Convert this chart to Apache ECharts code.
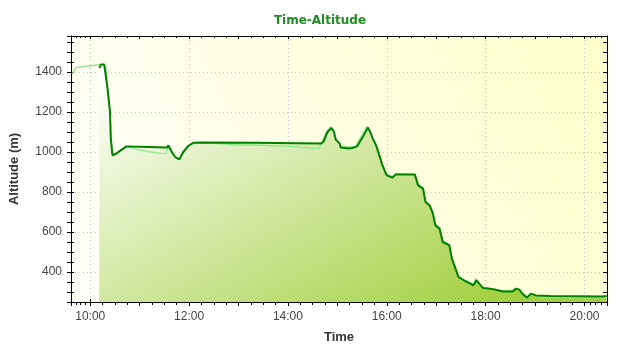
<!DOCTYPE html>
<html>
<head>
<meta charset="utf-8">
<script src="https://cdn.jsdelivr.net/npm/echarts@6/dist/echarts.min.js"></script>
<style>html,body{margin:0;padding:0;background:#fff;}#c{width:640px;height:350px;}</style>
</head>
<body>
<div id="c"></div>
<script>
// Dark (main) altitude track
var darkTimes = ['10:11','10:13','10:17','10:18','10:21','10:24','10:25','10:27','10:29','10:31','10:37','10:44','10:51','11:33','11:35','11:39','11:43','11:48','11:53','11:59','12:05','12:16','13:21','13:22','14:40','14:43','14:48','14:53','14:56','14:58','15:03','15:04','15:14','15:18','15:24','15:27','15:32','15:37','15:40','15:43','15:47','15:51','15:54','15:58','16:00','16:07','16:11','16:34','16:38','16:44','16:47','16:52','16:56','16:59','17:04','17:08','17:16','17:19','17:22','17:27','17:35','17:41','17:45','17:49','17:51','17:54','17:57','18:03','18:11','18:21','18:33','18:37','18:41','18:45','18:50','18:55','19:01','19:19','20:22','20:24','20:27'];
var darkValues = [1420,1437,1437,1428,1318,1200,1068,984,975,990,1008,1028,1027,1022,1033,1000,975,963,1000,1030,1046,1048,1046,1042,1043,1050,1100,1120,1100,1062,1042,1022,1017,1020,1028,1050,1083,1122,1100,1067,1033,983,942,900,883,872,888,888,833,817,750,733,692,633,617,550,533,467,433,375,355,343,333,358,362,333,320,317,312,303,303,317,312,290,272,292,283,280,278,268,280];

// Light (secondary) altitude track
var lightTimes = ['09:38','09:40','09:43','10:07','10:16','10:19','10:21','10:24','10:25','10:27','10:29','10:31','10:37','10:44','10:47','10:57','11:09','11:26','11:32','11:34','11:36','11:39','11:43','11:48','11:53','11:59','12:05','12:38','12:58','13:21','13:22','14:00','14:01','14:20','14:21','14:38','14:41','14:46','14:51','14:55','14:58','15:02','15:04','15:14','15:22','15:26','15:31','15:36','15:39','15:43','15:47','15:51','15:54','15:58','16:00','16:07','16:11','16:34','16:38','16:44','16:47','16:52','16:56','16:59','17:04','17:08','17:16','17:19','17:22','17:27','17:35','17:41','17:45','17:48','17:50','17:53','17:57','18:03','18:11','18:21','18:29','18:33','18:37','18:41','18:45','18:50','18:55','19:01','19:10','20:26'];
var lightValues = [1388,1405,1422,1435,1438,1425,1320,1205,1075,988,978,992,1010,1028,1025,1012,1003,993,992,1025,1035,1005,978,966,1002,1032,1046,1042,1035,1035,1028,1028,1022,1022,1017,1017,1045,1095,1125,1108,1070,1045,1030,1025,1028,1060,1095,1128,1105,1070,1038,990,948,905,888,877,893,885,840,822,755,738,697,640,622,556,538,472,438,380,358,346,338,367,365,338,322,318,313,305,308,312,318,312,292,275,294,280,272,272];

var xMin = '09:36:40';
var xMax = '20:27:20';
var xLabelEveryHours = 2;
var yMin = 250, yMax = 1580, yStep = 50, yLabelStep = 200;
var titleText = 'Time-Altitude';
var xName = 'Time';
var yName = 'Altitude (m)';

var DAY = '2020-01-01 ';
function toPairs(ts, vs) { return ts.map(function (t, i) { return [DAY + t, vs[i]]; }); }
var darkData = toPairs(darkTimes, darkValues);
var lightData = toPairs(lightTimes, lightValues);

var labelFont = { fontFamily: 'Liberation Sans', fontSize: 12, color: '#444' };
var nameFont = { fontFamily: 'Liberation Sans', fontSize: 13, fontWeight: 'bold', color: '#333' };
var blackLine = { show: true, onZero: false, lineStyle: { color: '#000', width: 1 } };
var GRID = '#c4c4c4', NONE = 'rgba(0,0,0,0)';

function pad(n) { return (n < 10 ? '0' : '') + n; }
function xLabel(v) {
  var d = new Date(v);
  if (d.getMinutes() !== 0 || d.getSeconds() !== 0) return '';
  return d.getHours() % xLabelEveryHours === 0 ? pad(d.getHours()) + ':' + pad(d.getMinutes()) : '';
}

function xAx(extra) {
  return Object.assign({
    type: 'time', min: DAY + xMin, max: DAY + xMax,
    axisLine: blackLine, axisLabel: { show: false }, splitLine: { show: false }
  }, extra);
}
function yAx(extra) {
  return Object.assign({
    type: 'value', min: yMin, max: yMax, interval: yStep,
    axisLine: blackLine, axisLabel: { show: false }, splitLine: { show: false }
  }, extra);
}

var chart = echarts.init(document.getElementById('c'), null, { renderer: 'canvas' });
chart.setOption({
  animation: false,
  backgroundColor: '#ffffff',
  title: {
    text: titleText, left: 'center', top: 10,
    textStyle: { fontFamily: 'DejaVu Sans', fontSize: 12, fontWeight: 'bold', color: '#1e8c1e' }
  },
  grid: {
    left: 67, right: 33, top: 36, bottom: 48, show: true, borderWidth: 0,
    backgroundColor: {
      type: 'linear', x: 67, y: 302, x2: 607, y2: 36, global: true,
      colorStops: [{ offset: 0, color: '#fffffb' }, { offset: 1, color: '#ffffcc' }]
    }
  },
  xAxis: [
    xAx({
      position: 'bottom', name: xName, nameLocation: 'middle', nameGap: 29, nameTextStyle: nameFont,
      axisLabel: Object.assign({ show: true, margin: 9, formatter: xLabel }, labelFont),
      axisTick: { show: true, inside: false, length: 4, lineStyle: { color: '#000' } },
      minorTick: { show: true, splitNumber: 4, length: 3, lineStyle: { color: '#000' } },
      splitLine: { show: true, lineStyle: { color: [NONE, GRID], type: [1, 3], width: 1 } }
    }),
    xAx({
      position: 'bottom',
      axisTick: { show: true, inside: true, length: 3, lineStyle: { color: '#000' } },
      minorTick: { show: false }
    }),
    xAx({
      position: 'top',
      axisTick: { show: true, inside: true, length: 3, lineStyle: { color: '#000' } },
      minorTick: { show: true, splitNumber: 4, length: 2, lineStyle: { color: '#000' } }
    })
  ],
  yAxis: [
    yAx({
      position: 'left', name: yName, nameLocation: 'middle', nameGap: 50, nameTextStyle: nameFont,
      axisLabel: Object.assign({ show: true, margin: 9, formatter: function (v) { return v % yLabelStep === 0 ? String(v) : ''; } }, labelFont),
      axisTick: { show: true, inside: false, length: 4, lineStyle: { color: '#000' } },
      splitLine: { show: true, showMinLine: true, showMaxLine: true,
        lineStyle: { color: [NONE, NONE, NONE, GRID], type: [1, 3], width: 1 } }
    }),
    yAx({
      position: 'left',
      axisTick: { show: true, inside: true, length: 3, lineStyle: { color: '#000' } }
    }),
    yAx({
      position: 'right',
      axisTick: { show: true, inside: true, length: 4, lineStyle: { color: '#000' } }
    })
  ],
  series: [
    {
      name: 'fill', type: 'line', data: darkData, xAxisIndex: 0, yAxisIndex: 0,
      showSymbol: false, symbol: 'none', z: 1, silent: true,
      lineStyle: { width: 0, opacity: 0 },
      areaStyle: {
        origin: 'start', opacity: 1,
        color: {
          type: 'linear', x: 96, y: 80, x2: 290, y2: 420, global: true,
          colorStops: [{ offset: 0, color: '#ffffff' }, { offset: 1, color: '#a3d042' }]
        }
      }
    },
    {
      name: 'light', type: 'line', data: lightData, xAxisIndex: 0, yAxisIndex: 0,
      showSymbol: false, symbol: 'none', z: 2,
      lineStyle: { color: '#8fe88f', width: 1.3 }
    },
    {
      name: 'dark', type: 'line', data: darkData, xAxisIndex: 0, yAxisIndex: 0,
      showSymbol: false, symbol: 'none', z: 3,
      lineStyle: { color: '#008000', width: 2 }
    }
  ]
});
</script>
</body>
</html>
